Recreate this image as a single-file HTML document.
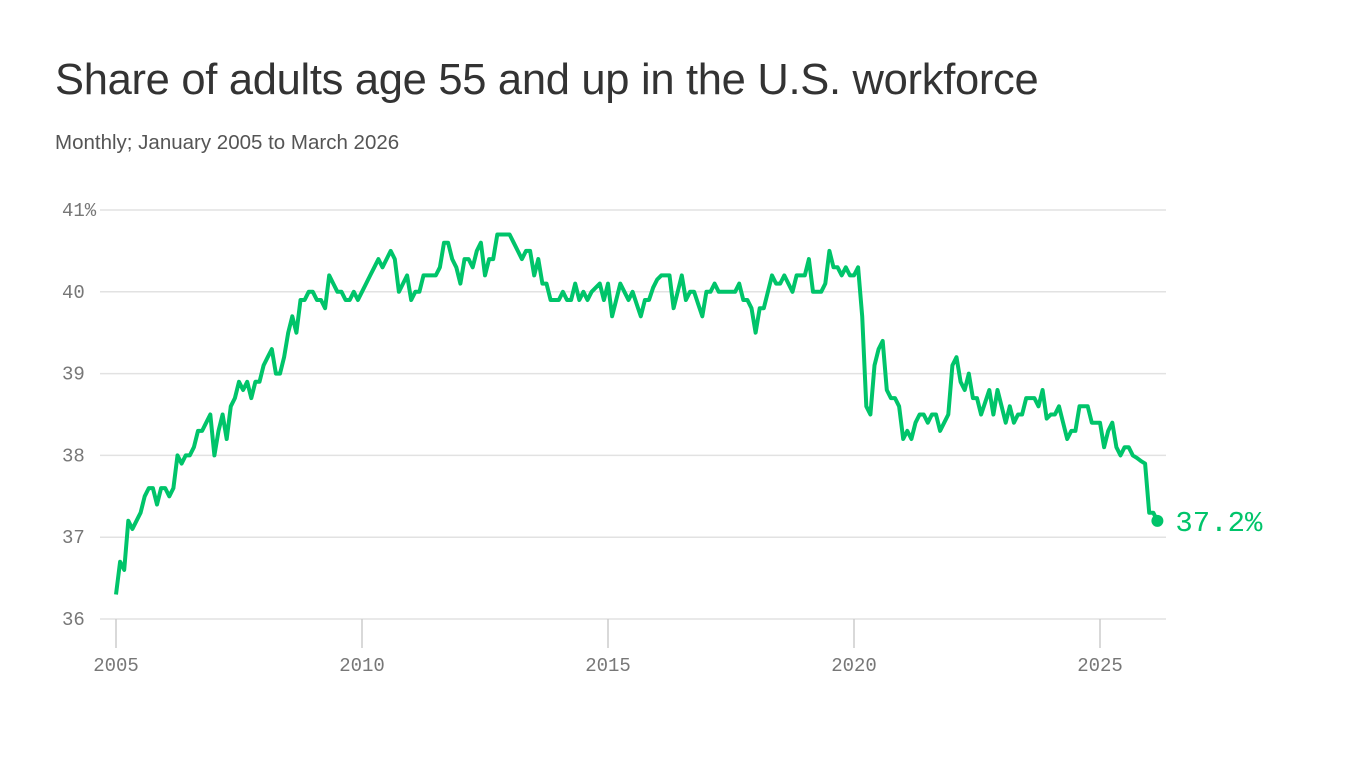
<!DOCTYPE html>
<html><head><meta charset="utf-8"><style>
body{margin:0;background:#fff;width:1366px;height:768px;overflow:hidden;font-family:"Liberation Sans",sans-serif}
h1{position:absolute;left:55px;top:56px;margin:0;font-size:43.5px;font-weight:400;color:#333;letter-spacing:-0.3px}
.sub{position:absolute;left:55px;top:131px;font-size:20.5px;color:#555}
</style></head><body>
<h1>Share of adults age 55 and up in the U.S. workforce</h1>
<div class="sub">Monthly; January 2005 to March 2026</div>
<svg id="chart" width="1366" height="768" style="position:absolute;left:0;top:0"></svg>
<script>
const yTicks=[36,37,38,39,40,41];
const xTicks=[2005,2010,2015,2020,2025];
const startYear=2005;
const values=[
36.3,36.7,36.6,37.2,37.1,37.2,37.3,37.5,37.6,37.6,37.4,37.6,
37.6,37.5,37.6,38.0,37.9,38.0,38.0,38.1,38.3,38.3,38.4,38.5,
38.0,38.3,38.5,38.2,38.6,38.7,38.9,38.8,38.9,38.7,38.9,38.9,
39.1,39.2,39.3,39.0,39.0,39.2,39.5,39.7,39.5,39.9,39.9,40.0,
40.0,39.9,39.9,39.8,40.2,40.1,40.0,40.0,39.9,39.9,40.0,39.9,
40.0,40.1,40.2,40.3,40.4,40.3,40.4,40.5,40.4,40.0,40.1,40.2,
39.9,40.0,40.0,40.2,40.2,40.2,40.2,40.3,40.6,40.6,40.4,40.3,
40.1,40.4,40.4,40.3,40.5,40.6,40.2,40.4,40.4,40.7,40.7,40.7,
40.7,40.6,40.5,40.4,40.5,40.5,40.2,40.4,40.1,40.1,39.9,39.9,
39.9,40.0,39.9,39.9,40.1,39.9,40.0,39.9,40.0,40.05,40.1,39.9,
40.1,39.7,39.9,40.1,40.0,39.9,40.0,39.85,39.7,39.9,39.9,40.05,
40.15,40.2,40.2,40.2,39.8,40.0,40.2,39.9,40.0,40.0,39.85,39.7,
40.0,40.0,40.1,40.0,40.0,40.0,40.0,40.0,40.1,39.9,39.9,39.8,
39.5,39.8,39.8,40.0,40.2,40.1,40.1,40.2,40.1,40.0,40.2,40.2,
40.2,40.4,40.0,40.0,40.0,40.1,40.5,40.3,40.3,40.2,40.3,40.2,
40.2,40.3,39.7,38.6,38.5,39.1,39.3,39.4,38.8,38.7,38.7,38.6,
38.2,38.3,38.2,38.4,38.5,38.5,38.4,38.5,38.5,38.3,38.4,38.5,
39.1,39.2,38.9,38.8,39.0,38.7,38.7,38.5,38.65,38.8,38.5,38.8,
38.6,38.4,38.6,38.4,38.5,38.5,38.7,38.7,38.7,38.6,38.8,38.45,
38.5,38.5,38.6,38.4,38.2,38.3,38.3,38.6,38.6,38.6,38.4,38.4,
38.4,38.1,38.3,38.4,38.1,38.0,38.1,38.1,38.0,37.97,37.93,37.9,
37.3,37.3,37.2];
const svg=document.getElementById('chart');
const NS='http://www.w3.org/2000/svg';
const x=m=>116+(m/12)*49.2;
const xYear=yr=>x((yr-startYear)*12);
const y=v=>619-(v-36)*81.8;
function mk(t,a){const e=document.createElementNS(NS,t);for(const k in a)e.setAttribute(k,a[k]);svg.appendChild(e);return e;}
yTicks.forEach(v=>{
 const g=mk('line',{x1:100,x2:1166,y1:y(v),y2:y(v),stroke:'#e2e2e2','stroke-width':1.5});
 
 
 const t=mk('text',{x:62,y:y(v)+6,'font-family':'Liberation Mono, monospace','font-size':19,fill:'#777'});
 t.textContent=v+(v===41?'%':'');
 
 
});
xTicks.forEach(yr=>{
 const l=mk('line',{x1:xYear(yr),x2:xYear(yr),y1:619,y2:648,stroke:'#ccc','stroke-width':1.5});
 
 
 const t=mk('text',{x:xYear(yr),y:671,'text-anchor':'middle','font-family':'Liberation Mono, monospace','font-size':19,fill:'#777'});
 t.textContent=yr;
 
 
});
const pts=values.map((v,i)=>x(i).toFixed(1)+','+y(v).toFixed(1)).join(' ');
const pl=mk('polyline',{points:pts,fill:'none',stroke:'#00c46a','stroke-width':4,'stroke-linejoin':'round'});


const last=values.length-1;
const d=mk('circle',{cx:x(last),cy:y(values[last]),r:6,fill:'#00c46a'});


const lb=mk('text',{x:x(last)+18,y:y(values[last])+10,'font-family':'Liberation Mono, monospace','font-size':29,fill:'#00c46a'});
lb.textContent=values[last].toFixed(1)+'%';


</script>
</body></html>
